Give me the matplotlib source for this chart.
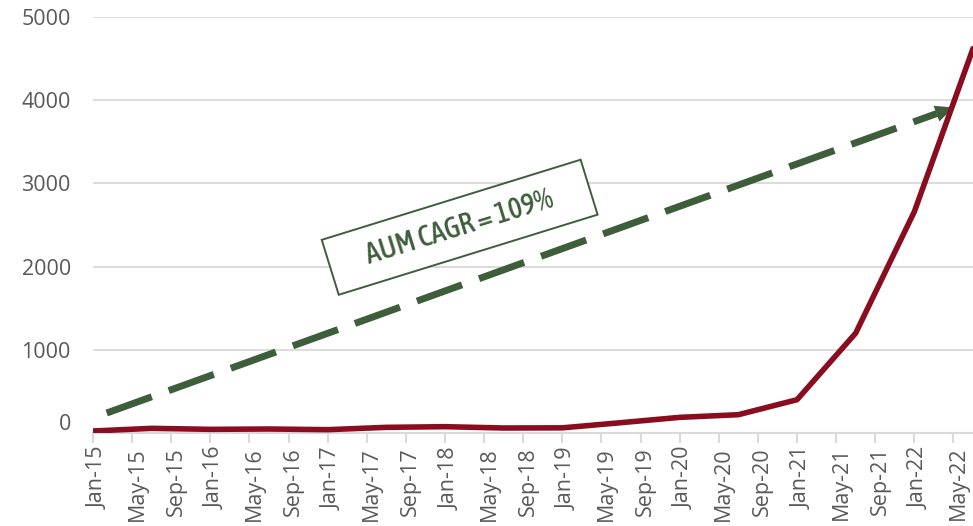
import matplotlib
matplotlib.use('Agg')
import matplotlib.pyplot as plt
import matplotlib.transforms as mtransforms
from matplotlib.patches import Rectangle
from matplotlib import font_manager
import pandas as pd

# half-yearly AUM readings
periods = ['Jan-15', 'Jul-15', 'Jan-16', 'Jul-16', 'Jan-17', 'Jul-17', 'Jan-18', 'Jul-18',
           'Jan-19', 'Jul-19', 'Jan-20', 'Jul-20', 'Jan-21', 'Jul-21', 'Jan-22', 'Jul-22']
aum = [24, 56, 44, 48, 40, 68, 76, 60, 62, 124, 188, 220, 400, 1200, 2660, 4620]

tick_labels = ['Jan-15', 'May-15', 'Sep-15', 'Jan-16', 'May-16', 'Sep-16', 'Jan-17', 'May-17',
               'Sep-17', 'Jan-18', 'May-18', 'Sep-18', 'Jan-19', 'May-19', 'Sep-19', 'Jan-20',
               'May-20', 'Sep-20', 'Jan-21', 'May-21', 'Sep-21', 'Jan-22', 'May-22']

cagr_label = 'AUM CAGR = 109%'

RED = '#8a0c1f'
GREEN = '#3e5e3b'
GREY = '#d9d9d9'
LABEL = '#595959'


def month_index(s):
    d = pd.to_datetime(s, format='%b-%y')
    return (d.year - 2015) * 12 + d.month - 1


x = [month_index(p) for p in periods]
ticks = [month_index(t) for t in tick_labels]

plt.rcParams['font.family'] = ['Open Sans', 'DejaVu Sans']


def weight_num(w):
    if isinstance(w, int):
        return w
    return font_manager.weight_dict.get(w, 400)


# narrow, medium-weight face for the callout
cands = [f for f in font_manager.fontManager.ttflist
         if ('Condensed' in f.name or 'Narrow' in f.name or f.stretch in ('condensed', 'semi-condensed'))
         and f.style == 'normal']
cands.sort(key=lambda f: (abs(weight_num(f.weight) - 500), f.name))
if cands:
    callout_font = font_manager.FontProperties(fname=cands[0].fname, size=21)
else:
    callout_font = font_manager.FontProperties(family='Liberation Sans', size=16)

fig = plt.figure(figsize=(9.73, 5.26), dpi=100)
ax = fig.add_axes([93 / 973, 93 / 526, 880 / 973, 416 / 526])

ax.plot(x, aum, color=RED, lw=4, solid_capstyle='round', solid_joinstyle='round', zorder=4)

ax.set_xlim(0, 90)
ax.set_ylim(0, 5000)
ax.set_yticks(range(0, 5001, 1000))
ax.set_xticks(ticks)
ax.set_xticklabels(tick_labels, rotation=90, fontsize=15.5, color=LABEL)
ax.tick_params(axis='y', length=0, pad=16, labelsize=15.5, labelcolor=LABEL)
ax.tick_params(axis='x', length=7, width=1.5, color=GREY, pad=3)
ax.grid(axis='y', color=GREY, lw=1.3)
ax.set_axisbelow(True)
for side in ['left', 'right', 'top']:
    ax.spines[side].set_visible(False)
ax.spines['bottom'].set_color(GREY)
ax.spines['bottom'].set_linewidth(1.5)

# nudge labels a little, as in the original layout
shift_x = mtransforms.ScaledTranslation(0.05, 0, fig.dpi_scale_trans)
for lab in ax.get_xticklabels():
    lab.set_transform(lab.get_transform() + shift_x)
zero_lab = ax.get_yticklabels()[0]
zero_lab.set_transform(zero_lab.get_transform() + mtransforms.ScaledTranslation(0, 0.11, fig.dpi_scale_trans))

# dashed growth arrow
start = (1.4, 240)
tip = (88.0, 3913)
head_base = (86.3, 3840)
ax.plot([start[0], head_base[0]], [start[1], head_base[1]], color=GREEN, lw=5,
        dashes=(6.9, 2.6), dash_capstyle='butt', zorder=3)
ax.annotate('', xy=tip, xytext=head_base,
            arrowprops=dict(arrowstyle='-|>,head_length=13,head_width=6', mutation_scale=1,
                            color=GREEN, lw=0, shrinkA=0, shrinkB=0), zorder=3)

# rotated label box
cx, cy, ang = 37.5, 2473, 17.2
box_trans = (mtransforms.Affine2D().rotate_deg(ang) + fig.dpi_scale_trans
             + mtransforms.ScaledTranslation(cx, cy, ax.transData))
ax.add_patch(Rectangle((-1.355, -0.2875), 2.71, 0.575, transform=box_trans,
                       facecolor='white', edgecolor=GREEN, lw=1.4, zorder=5, clip_on=False))
ax.text(cx, cy, cagr_label, rotation=ang, rotation_mode='anchor', ha='center', va='center',
        fontproperties=callout_font, color=GREEN, zorder=6)

fig.savefig('out.png', dpi=100)
